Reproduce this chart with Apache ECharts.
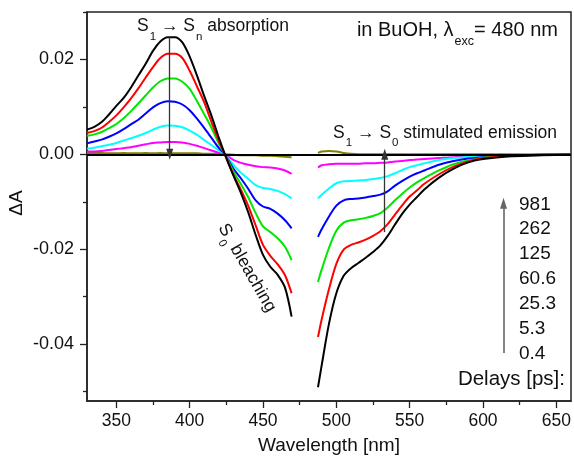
<!DOCTYPE html>
<html>
<head>
<meta charset="utf-8">
<script src="https://cdn.jsdelivr.net/npm/echarts@6/dist/echarts.min.js"></script>
<style>html,body{margin:0;padding:0;background:#fff}#c{width:574px;height:466px}</style>
</head>
<body>
<div id="c"></div>
<script>
// ---- data ----
const delays = ['0.4', '5.3', '25.3', '60.6', '125', '262', '981'];
const colors = ['#000000', '#ff0000', '#00e600', '#0000ff', '#00ffff', '#ff00ff', '#808000'];

const wlLeft = [330,335,340,345,350,355,360,365,370,375,380,385,390,395,400,405,410,415,420,424,430,435,440,445,450,455,460,465,469.5];
const wlRight = [487.5,490,495,500,505,510,515,520,525,530,535,540,545,550,555,560,570,580,590,600,620,640,660];

const d04L  = [0.0052,0.0058,0.0068,0.0084,0.0102,0.0119,0.0141,0.0166,0.0191,0.0218,0.0238,0.0247,0.0247,0.0236,0.0206,0.0166,0.0122,0.0080,0.0034,0,-0.0046,-0.0082,-0.0123,-0.0170,-0.0212,-0.0237,-0.0254,-0.0281,-0.0342];
const d53L  = [0.0045,0.0049,0.0056,0.0068,0.0082,0.0099,0.0118,0.0139,0.0162,0.0184,0.0203,0.0212,0.0212,0.0203,0.0176,0.0143,0.0109,0.0067,0.0027,0,-0.0044,-0.0075,-0.0109,-0.0150,-0.0191,-0.0214,-0.0232,-0.0255,-0.0293];
const d253L = [0.0039,0.0042,0.0047,0.0055,0.0064,0.0076,0.0091,0.0107,0.0124,0.0141,0.0154,0.0160,0.0160,0.0153,0.0138,0.0112,0.0084,0.0055,0.0022,0,-0.0037,-0.0063,-0.0091,-0.0124,-0.0152,-0.0164,-0.0177,-0.0195,-0.0223];
const d606L = [0.0023,0.0027,0.0031,0.0037,0.0044,0.0053,0.0063,0.0073,0.0086,0.0099,0.0108,0.0112,0.0111,0.0105,0.0093,0.0075,0.0055,0.0034,0.0013,0,-0.0031,-0.0051,-0.0073,-0.0097,-0.0110,-0.0115,-0.0125,-0.0139,-0.0156];
const d125L = [0.0012,0.0014,0.0017,0.0020,0.0024,0.0029,0.0034,0.0039,0.0045,0.0052,0.0058,0.0061,0.0060,0.0057,0.0050,0.0041,0.0030,0.0019,0.0008,0,-0.0023,-0.0039,-0.0052,-0.0065,-0.0071,-0.0073,-0.0077,-0.0084,-0.0093];
const d262L = [0.0006,0.0006,0.0007,0.0009,0.0011,0.0013,0.0015,0.0018,0.0021,0.0024,0.0025,0.0026,0.0026,0.0025,0.0022,0.0018,0.0013,0.0008,0.0003,0,-0.0012,-0.0018,-0.0022,-0.0025,-0.0027,-0.0028,-0.0030,-0.0034,-0.0041];
const d981L = [0.0003,0.0003,0.0003,0.0002,0.0002,0.0003,0.0002,0.0002,0.0003,0.0002,0.0003,0.0002,0.0002,0.0002,0.0002,0.0002,0.0001,0.0001,0.0001,0,-0.0001,-0.0002,-0.0002,-0.0002,-0.0003,-0.0003,-0.0004,-0.0005,-0.0006];

const d04R  = [-0.0491,-0.0445,-0.0357,-0.0293,-0.0256,-0.0240,-0.0229,-0.0218,-0.0206,-0.0192,-0.0172,-0.0148,-0.0125,-0.0106,-0.0090,-0.0074,-0.0049,-0.0030,-0.0017,-0.0010,-0.0004,-0.0002,-0.0001];
const d53R  = [-0.0385,-0.0348,-0.0284,-0.0231,-0.0201,-0.0191,-0.0186,-0.0180,-0.0172,-0.0162,-0.0147,-0.0127,-0.0107,-0.0089,-0.0076,-0.0062,-0.0042,-0.0026,-0.0015,-0.0008,-0.0003,-0.0001,0];
const d253R = [-0.0269,-0.0243,-0.0197,-0.0161,-0.0144,-0.0139,-0.0137,-0.0134,-0.0130,-0.0124,-0.0112,-0.0097,-0.0083,-0.0070,-0.0059,-0.0050,-0.0034,-0.0021,-0.0013,-0.0007,-0.0003,-0.0001,0];
const d606R = [-0.0174,-0.0158,-0.0131,-0.0108,-0.0097,-0.0094,-0.0093,-0.0091,-0.0088,-0.0085,-0.0078,-0.0066,-0.0056,-0.0047,-0.0040,-0.0034,-0.0022,-0.0014,-0.0009,-0.0006,-0.0002,-0.0001,0];
const d125R = [-0.0093,-0.0085,-0.0072,-0.0061,-0.0057,-0.0056,-0.0055,-0.0054,-0.0052,-0.0050,-0.0046,-0.0040,-0.0033,-0.0027,-0.0023,-0.0019,-0.0012,-0.0008,-0.0005,-0.0003,-0.0001,0,0];
const d262R = [-0.0028,-0.0023,-0.0021,-0.0020,-0.0020,-0.0020,-0.0020,-0.0019,-0.0019,-0.0018,-0.0017,-0.0015,-0.0014,-0.0012,-0.0011,-0.0010,-0.0008,-0.0006,-0.0005,-0.0004,-0.0002,-0.0001,0];
const d981R = [0.0003,0.0006,0.0007,0.0006,0.0003,0.0001,0,0,0,0,0,0,0,0,0,0,0,0,0,0,0,0,0];

const leftSets = [d04L, d53L, d253L, d606L, d125L, d262L, d981L];
const rightSets = [d04R, d53R, d253R, d606R, d125R, d262R, d981R];

const xMajor = [350, 400, 450, 500, 550, 600, 650];
const xMinor = [375, 425, 475, 525, 575, 625];
const yMajor = [-0.04, -0.02, 0, 0.02];
const yMinor = [-0.05, -0.03, -0.01, 0.01, 0.03];

// annotation arrows (data coordinates)
const absArrow = [[386.4, 0.0247], [386.4, 0]];
const seArrow = [[533, -0.0164], [533, 0]];
const legendArrow = [[614, -0.0419], [614, -0.0103]];

// ---- chart ----
const F = '"Liberation Sans", Arial, sans-serif';
const AX = '#222';
const chart = echarts.init(document.getElementById('c'), null, {renderer: 'canvas'});

const series = [];
for (let k = delays.length - 1; k >= 0; k--) {
  const base = {
    type: 'line', xAxisIndex: 0, yAxisIndex: 0, showSymbol: false, symbol: 'none',
    smooth: 0.3,
    lineStyle: {color: colors[k], width: 2}, itemStyle: {color: colors[k]},
    silent: true, animation: false, z: 3
  };
  series.push(Object.assign({}, base, {name: delays[k] + ' L', data: wlLeft.map((x, i) => [x, leftSets[k][i]])}));
  series.push(Object.assign({}, base, {name: delays[k] + ' R', data: wlRight.map((x, i) => [x, rightSets[k][i]])}));
}
// zero line
series[0].markLine = {
  silent: true, animation: false, symbol: 'none', label: {show: false},
  lineStyle: {color: '#000', width: 2, type: 'solid'},
  data: [{yAxis: 0}]
};
function arrowLine(pts, color, width) {
  return {
    silent: true, animation: false, symbol: ['none', 'triangle'], symbolSize: [7, 11],
    label: {show: false}, lineStyle: {color: color, width: width, type: 'solid'},
    emphasis: {disabled: true},
    data: [[{coord: pts[0]}, {coord: pts[1]}]]
  };
}
series[series.length - 2].markLine = arrowLine(absArrow, '#333', 1.3);
series[series.length - 4].markLine = arrowLine(seArrow, '#333', 1.3);
series[series.length - 6].markLine = arrowLine(legendArrow, '#666', 1.6);

const subPad = (s) => [s * 2, 0, 0, 1];

chart.setOption({
  animation: false,
  grid: {left: 87, top: 12, right: 3, bottom: 65, containLabel: false, outerBoundsMode: 'none',
         show: true, borderColor: AX, borderWidth: 1.5, backgroundColor: 'transparent'},
  xAxis: [
    {
      type: 'value', min: 330, max: 660, position: 'bottom',
      name: 'Wavelength [nm]', nameLocation: 'middle', nameGap: 35,
      nameTextStyle: {fontFamily: F, fontSize: 19, color: '#111'},
      axisLine: {show: true, onZero: false, lineStyle: {color: AX, width: 1.5}},
      axisTick: {show: true, inside: false, length: 7, lineStyle: {color: AX, width: 1.3}, customValues: xMajor},
      axisLabel: {show: true, customValues: xMajor, fontFamily: F, fontSize: 17.5, color: '#111', margin: 11},
      splitLine: {show: false}
    },
    {
      type: 'value', min: 330, max: 660, position: 'bottom',
      axisLine: {show: false, onZero: false},
      axisTick: {show: true, inside: false, length: 4, lineStyle: {color: AX, width: 1.3}, customValues: xMinor},
      axisLabel: {show: false}, splitLine: {show: false}
    }
  ],
  yAxis: [
    {
      type: 'value', min: -0.052, max: 0.03, position: 'left',
      axisLine: {show: true, onZero: false, lineStyle: {color: AX, width: 1.5}},
      axisTick: {show: true, inside: false, length: 7, lineStyle: {color: AX, width: 1.3}, customValues: yMajor},
      axisLabel: {show: true, customValues: yMajor, fontFamily: F, fontSize: 18, color: '#111', margin: 13,
        formatter: v => Number(v).toFixed(2)},
      splitLine: {show: false}
    },
    {
      type: 'value', min: -0.052, max: 0.03, position: 'left',
      axisLine: {show: false, onZero: false},
      axisTick: {show: true, inside: false, length: 4, lineStyle: {color: AX, width: 1.3}, customValues: yMinor},
      axisLabel: {show: false}, splitLine: {show: false}
    }
  ],
  series: series,
  graphic: [
    {
      type: 'text', x: 17, y: 203, rotation: Math.PI / 2, z: 10, silent: true,
      style: {text: 'ΔA', align: 'center', verticalAlign: 'middle', fontFamily: F, fontSize: 19, fill: '#111'}
    },
    {
      type: 'text', x: 137, y: 26, z: 10, silent: true,
      style: {
        text: '{m|S}{s|1}{m| → S}{s|n}{m| absorption}', align: 'left', verticalAlign: 'middle',
        rich: {m: {fontFamily: F, fontSize: 17.5, fill: '#111', color: '#111'},
               s: {fontFamily: F, fontSize: 11.5, fill: '#111', color: '#111', padding: subPad(10.5)}}
      }
    },
    {
      type: 'text', x: 558, y: 30.5, z: 10, silent: true,
      style: {
        text: '{m|in BuOH, λ}{s|exc}{m|= 480 nm}', align: 'right', verticalAlign: 'middle',
        rich: {m: {fontFamily: F, fontSize: 20, fill: '#111', color: '#111'},
               s: {fontFamily: F, fontSize: 12.5, fill: '#111', color: '#111', padding: subPad(11)}}
      }
    },
    {
      type: 'text', x: 557, y: 133, z: 10, silent: true,
      style: {
        text: '{m|S}{s|1}{m| → S}{s|0}{m| stimulated emission}', align: 'right', verticalAlign: 'middle',
        rich: {m: {fontFamily: F, fontSize: 17.5, fill: '#111', color: '#111'},
               s: {fontFamily: F, fontSize: 11.5, fill: '#111', color: '#111', padding: subPad(10)}}
      }
    },
    {
      type: 'text', x: 247, y: 268, rotation: -60 * Math.PI / 180, z: 10, silent: true,
      style: {
        text: '{m|S}{s|0}{m| bleaching}', align: 'center', verticalAlign: 'middle',
        rich: {m: {fontFamily: F, fontSize: 17.5, fill: '#111', color: '#111'},
               s: {fontFamily: F, fontSize: 11.5, fill: '#111', color: '#111', padding: subPad(9)}}
      }
    },
    {
      type: 'text', x: 519, y: 191.9, z: 10, silent: true,
      style: {
        text: delays.slice().reverse().join('\n'), align: 'left', verticalAlign: 'top',
        fontFamily: F, fontSize: 19, lineHeight: 24.85, fill: '#111'
      }
    },
    {
      type: 'text', x: 565, y: 379.5, z: 10, silent: true,
      style: {text: 'Delays [ps]:', align: 'right', verticalAlign: 'middle', fontFamily: F, fontSize: 20.5, fill: '#111'}
    }
  ]
});
</script>
</body>
</html>
